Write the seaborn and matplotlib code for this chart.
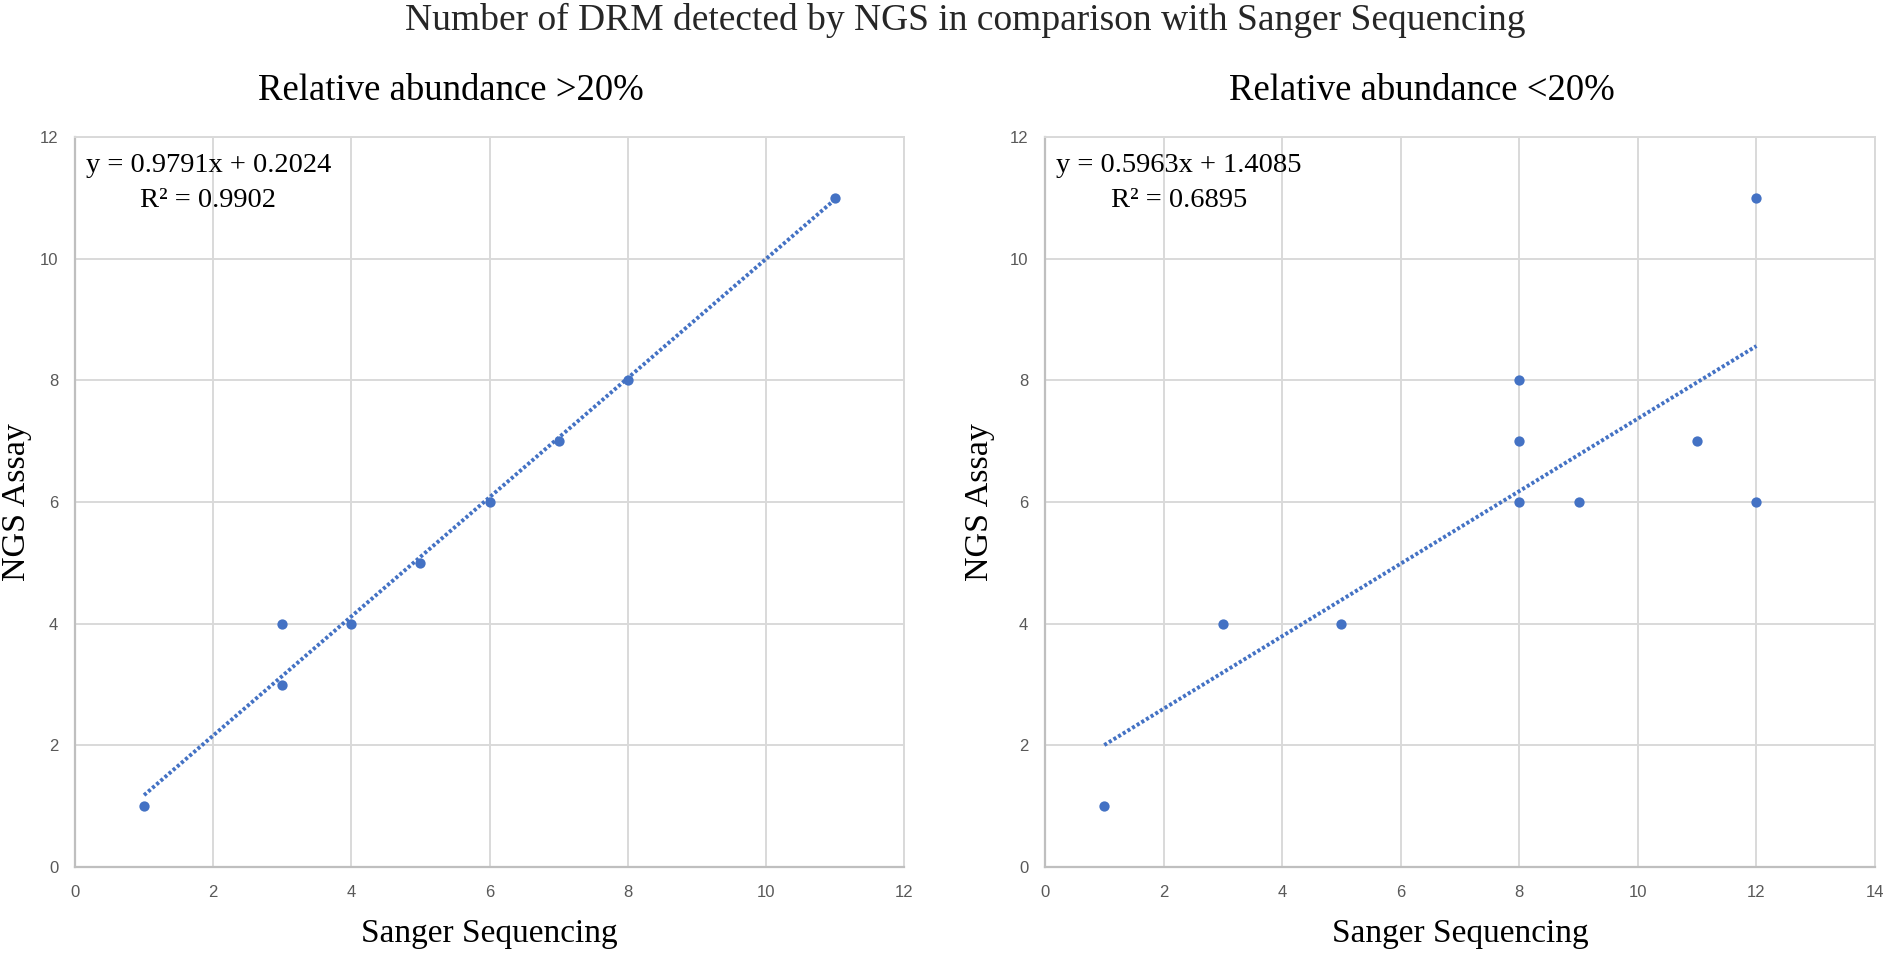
import matplotlib
matplotlib.use("Agg")
import matplotlib.pyplot as plt
import seaborn as sns
import numpy as np
import pandas as pd

# ---- data ----
left_x = [1, 3, 3, 4, 5, 6, 7, 8, 11]
left_y = [1, 3, 4, 4, 5, 6, 7, 8, 11]
right_x = [1, 3, 5, 8, 8, 8, 9, 11, 12, 12]
right_y = [1, 4, 4, 8, 7, 6, 6, 7, 11, 6]
left_fit = (0.9791, 0.2024)
right_fit = (0.5963, 1.4085)
left_eq = ["y = 0.9791x + 0.2024", "R² = 0.9902"]
right_eq = ["y = 0.5963x + 1.4085", "R² = 0.6895"]
suptitle = "Number of DRM detected by NGS in comparison with Sanger Sequencing"
titles = ["Relative abundance >20%", "Relative abundance <20%"]
xlabel = "Sanger Sequencing"
ylabel = "NGS Assay"
xlims = [12, 14]
ylim = 12

sns.set_theme(style="whitegrid")
serif = ["Liberation Serif", "DejaVu Serif"]
tickfont = ["Liberation Sans Narrow", "Liberation Sans", "DejaVu Sans"]
blue = "#4472C4"
gridc = "#D9D9D9"

fig = plt.figure(figsize=(18.89, 9.58), dpi=100)
W, H = 1889, 958
top, bottom = 137, 867
boxes = [(75, 904), (1045, 1875)]
axes = [fig.add_axes([l / W, 1 - bottom / H, (r - l) / W, (bottom - top) / H]) for l, r in boxes]
ylab_x = [-0.052, -0.060]

datasets = [(left_x, left_y, left_fit, left_eq), (right_x, right_y, right_fit, right_eq)]

for i, (ax, (xs, ys, fit, eq)) in enumerate(zip(axes, datasets)):
    df = pd.DataFrame({"x": xs, "y": ys})
    sns.scatterplot(data=df, x="x", y="y", ax=ax, color=blue, s=55,
                    edgecolor=blue, linewidth=0, zorder=3)
    xl = np.array([min(xs), max(xs)], dtype=float)
    sns.lineplot(x=xl, y=fit[0] * xl + fit[1], ax=ax, color=blue,
                 linestyle=(0, (0.8, 0.6)), linewidth=2.8, zorder=2)
    ax.set_xlim(0, xlims[i])
    ax.set_ylim(0, ylim)
    ax.set_xticks(np.arange(0, xlims[i] + 1, 2))
    ax.set_yticks(np.arange(0, ylim + 1, 2))
    ax.grid(True, color=gridc, linewidth=1.4)
    ax.set_axisbelow(True)
    for s in ["top", "right"]:
        ax.spines[s].set_color(gridc)
        ax.spines[s].set_linewidth(1.4)
    for s in ["left", "bottom"]:
        ax.spines[s].set_color("#BFBFBF")
        ax.spines[s].set_linewidth(1.6)
    ax.tick_params(axis="both", length=0, labelsize=12, colors="#595959")
    ax.tick_params(axis="x", pad=13)
    ax.tick_params(axis="y", pad=12)
    for lab in ax.get_xticklabels() + ax.get_yticklabels():
        lab.set_family(tickfont)
    ax.set_xlabel(xlabel, family=serif, fontsize=24, color="black")
    ax.xaxis.set_label_coords(0.5, (bottom - 942) / (bottom - top))
    ax.xaxis.label.set_va("baseline")
    ax.set_ylabel(ylabel, family=serif, fontsize=24.5, color="black")
    ax.yaxis.set_label_coords(ylab_x[i], 0.5)
    ax.text(0.454, (bottom - 100) / (bottom - top), titles[i], transform=ax.transAxes,
            family=serif, fontsize=26.5, ha="center", va="baseline", color="black")
    ax.text(0.161, (bottom - 172) / (bottom - top), eq[0], transform=ax.transAxes,
            family=serif, fontsize=20.5, va="baseline", ha="center", color="black")
    ax.text(0.161, (bottom - 207) / (bottom - top), eq[1], transform=ax.transAxes,
            family=serif, fontsize=20.5, va="baseline", ha="center", color="black")

fig.text(965 / W, 1 - 30 / H, suptitle, family=serif, fontsize=27, ha="center", va="baseline")

fig.savefig("out.png", dpi=100, facecolor="white")
